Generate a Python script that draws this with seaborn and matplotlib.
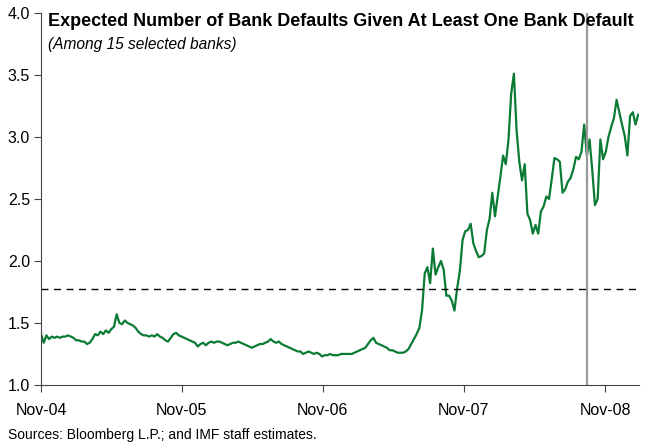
import pandas as pd
import matplotlib
matplotlib.use('Agg')
import matplotlib.pyplot as plt
import seaborn as sns

# weekly readings, starting Nov-04
start_date = '2004-11-01'
values = [
    1.41, 1.34, 1.40, 1.37, 1.39, 1.38, 1.39, 1.38, 1.39, 1.39,
    1.40, 1.39, 1.38, 1.36, 1.36, 1.35, 1.35, 1.33, 1.34, 1.37,
    1.41, 1.40, 1.43, 1.41, 1.44, 1.42, 1.45, 1.47, 1.57, 1.50,
    1.49, 1.52, 1.50, 1.49, 1.48, 1.46, 1.43, 1.41, 1.40, 1.40,
    1.39, 1.40, 1.39, 1.41, 1.39, 1.38, 1.36, 1.35, 1.38, 1.41,
    1.42, 1.40, 1.39, 1.38, 1.37, 1.36, 1.35, 1.34, 1.31, 1.33,
    1.34, 1.32, 1.34, 1.35, 1.34, 1.35, 1.35, 1.34, 1.33, 1.32,
    1.33, 1.34, 1.34, 1.35, 1.34, 1.33, 1.32, 1.31, 1.30, 1.31,
    1.32, 1.33, 1.33, 1.34, 1.35, 1.37, 1.35, 1.34, 1.35, 1.33,
    1.32, 1.31, 1.30, 1.29, 1.28, 1.27, 1.27, 1.25, 1.26, 1.27,
    1.26, 1.25, 1.26, 1.25, 1.23, 1.24, 1.24, 1.25, 1.24, 1.24,
    1.24, 1.25, 1.25, 1.25, 1.25, 1.25, 1.26, 1.27, 1.28, 1.29,
    1.30, 1.33, 1.36, 1.38, 1.34, 1.33, 1.32, 1.31, 1.30, 1.28,
    1.28, 1.27, 1.26, 1.26, 1.26, 1.27, 1.29, 1.33, 1.37, 1.41,
    1.46, 1.60, 1.90, 1.95, 1.82, 2.10, 1.89, 1.95, 2.00, 1.93,
    1.72, 1.72, 1.68, 1.60, 1.78, 1.92, 2.17, 2.24, 2.25, 2.30,
    2.14, 2.08, 2.03, 2.04, 2.06, 2.25, 2.34, 2.55, 2.36, 2.52,
    2.68, 2.85, 2.78, 2.98, 3.35, 3.51, 3.05, 2.80, 2.65, 2.78,
    2.38, 2.33, 2.22, 2.29, 2.22, 2.40, 2.44, 2.52, 2.50, 2.66,
    2.83, 2.82, 2.80, 2.55, 2.58, 2.64, 2.67, 2.74, 2.84, 2.82,
    2.88, 3.10, 2.85, 2.98, 2.73, 2.45, 2.50, 2.98, 2.82, 2.88,
    3.00, 3.08, 3.15, 3.30, 3.20, 3.10, 3.01, 2.85, 3.17, 3.20,
    3.10, 3.18,
]
threshold = 1.77
event_date = '2008-09-15'
tick_labels = ['Nov-04', 'Nov-05', 'Nov-06', 'Nov-07', 'Nov-08']
tick_dates = ['2004-11-01', '2005-11-01', '2006-11-01', '2007-11-01', '2008-11-01']
y_ticks = [1.0, 1.5, 2.0, 2.5, 3.0, 3.5, 4.0]

df = pd.DataFrame({
    'date': pd.date_range(start_date, periods=len(values), freq='7D'),
    'value': values,
})

sns.set_style('ticks')
plt.rcParams['font.family'] = ['Liberation Sans', 'DejaVu Sans']
plt.rcParams['text.color'] = 'black'

fig = plt.figure(figsize=(6.47, 4.44), dpi=100)
ax = fig.add_axes([0.0634, 0.133, 0.9242, 0.8378])

sns.lineplot(data=df, x='date', y='value', ax=ax, color='#0b7a34', linewidth=1.6)
ax.axhline(threshold, color='black', linewidth=1.0, linestyle=(0, (5, 4)))
ax.axvline(pd.Timestamp(event_date), color='#999999', linewidth=1.6)

ax.set_xlim(pd.Timestamp('2004-11-01'), pd.Timestamp('2009-01-28'))
ax.set_ylim(1.0, 4.0)
ax.set_yticks(y_ticks)
ax.set_yticklabels([f'{t:.1f}' for t in y_ticks], fontsize=11.5, color='black')
ax.set_xticks([pd.Timestamp(d) for d in tick_dates])
ax.set_xticklabels(tick_labels, fontsize=11.5, color='black')
ax.set_xlabel('')
ax.set_ylabel('')
ax.tick_params(axis='both', direction='out', length=5, width=0.8, color='#444444')
ax.tick_params(axis='x', pad=8)
ax.tick_params(axis='y', pad=3)
sns.despine(ax=ax)
for s in ['left', 'bottom']:
    ax.spines[s].set_color('#444444')
    ax.spines[s].set_linewidth(0.8)

fig.text(48 / 647, 1 - 22 / 444, 'Expected Number of Bank Defaults Given At Least One Bank Default',
         fontsize=13, fontweight='bold', va='center', ha='left', color='black')
fig.text(48 / 647, 1 - 45 / 444, '(Among 15 selected banks)',
         fontsize=11.2, style='italic', va='center', ha='left', color='black')
fig.text(8 / 647, 1 - 435 / 444, 'Sources: Bloomberg L.P.; and IMF staff estimates.',
         fontsize=10, va='center', ha='left', color='black')

fig.savefig('out.png', dpi=100)
